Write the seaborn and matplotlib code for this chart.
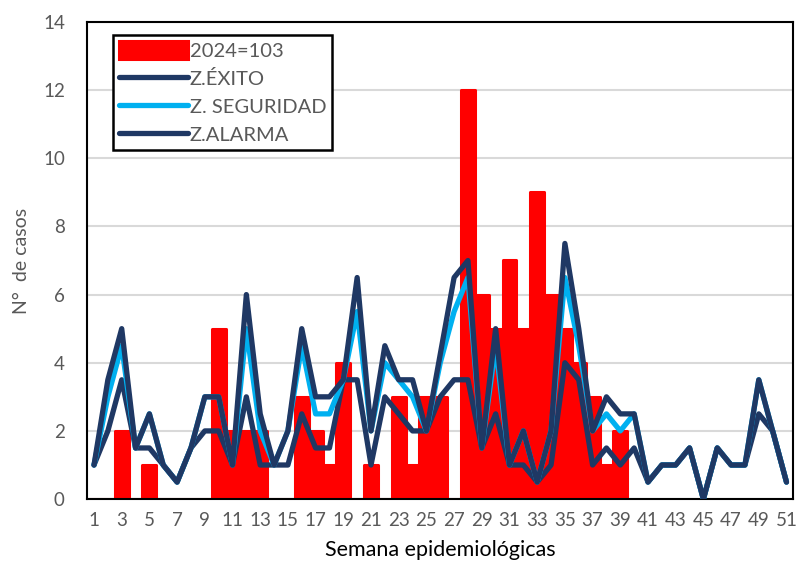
import numpy as np
import pandas as pd
import matplotlib
matplotlib.use("Agg")
import matplotlib.pyplot as plt
import seaborn as sns

# semanas epidemiologicas
semanas = list(range(1, 52))

# casos 2024 (semanas 1-39)
casos_2024 = [0, 0, 2, 0, 1, 0, 0, 0, 0, 5,
              2, 2, 2, 0, 0, 3, 2, 1, 4, 0,
              1, 0, 3, 1, 3, 3, 0, 12, 6, 5,
              7, 5, 9, 6, 5, 4, 3, 1, 2]

zona_exito = [1, 2, 3.5, 1.5, 1.5, 1, 0.5, 1.5, 2, 2,
              1, 3, 1, 1, 1, 2.5, 1.5, 1.5, 3.5, 3.5,
              1, 3, 2.5, 2, 2, 3, 3.5, 3.5, 1.5, 2.5,
              1, 1, 0.5, 1, 4, 3.5, 1, 1.5, 1, 1.5,
              0.5, 1, 1, 1.5, 0, 1.5, 1, 1, 2.5, 2, 0.5]

zona_seguridad = [1, 3, 4.5, 1.5, 2.5, 1, 0.5, 1.5, 3, 3,
                  1, 5, 2, 1, 2, 4.5, 2.5, 2.5, 3.5, 5.5,
                  2, 4, 3.5, 3, 2, 4, 5.5, 6.5, 1.5, 4.5,
                  1, 2, 0.5, 2, 6.5, 4.5, 2, 2.5, 2, 2.5,
                  0.5, 1, 1, 1.5, 0, 1.5, 1, 1, 3.5, 2, 0.5]

zona_alarma = [1, 3.5, 5, 1.5, 2.5, 1, 0.5, 1.5, 3, 3,
               1, 6, 2.5, 1, 2, 5, 3, 3, 3.5, 6.5,
               2, 4.5, 3.5, 3.5, 2, 4.25, 6.5, 7, 1.5, 5,
               1, 2, 0.5, 2, 7.5, 5, 2, 3, 2.5, 2.5,
               0.5, 1, 1, 1.5, 0, 1.5, 1, 1, 3.5, 2, 0.5]

etiqueta_barras = "2024=103"
navy = "#1F3864"
celeste = "#00B0F0"
gris = "#595959"

df_barras = pd.DataFrame({"semana": semanas[:len(casos_2024)], "casos": casos_2024})
df_lineas = pd.DataFrame({"semana": semanas, "exito": zona_exito,
                          "seguridad": zona_seguridad, "alarma": zona_alarma})

sns.set_style("white")
plt.rcParams["font.family"] = ["Lato", "DejaVu Sans"]

fig = plt.figure(figsize=(7.99, 5.75), dpi=100)
ax = fig.add_axes([0.109, 0.132, 0.884, 0.830])

sns.barplot(data=df_barras, x="semana", y="casos", native_scale=True, width=1.0,
            color="#FF0000", saturation=1, edgecolor="#FF0000", linewidth=2.2,
            label=etiqueta_barras, ax=ax, zorder=2)
for p in ax.patches:
    p.set_joinstyle("round")

estilo = dict(linewidth=3.8, solid_joinstyle="round", solid_capstyle="round", zorder=3)
sns.lineplot(data=df_lineas, x="semana", y="exito", color=navy, label="Z.ÉXITO", ax=ax, **estilo)
sns.lineplot(data=df_lineas, x="semana", y="seguridad", color=celeste, label="Z. SEGURIDAD", ax=ax, **estilo)
sns.lineplot(data=df_lineas, x="semana", y="alarma", color=navy, label="Z.ALARMA", ax=ax, **estilo)

ax.set_xlim(0.5, 51.5)
ax.set_ylim(0, 14)
ax.set_yticks(range(0, 15, 2))
ax.set_xticks(semanas[::2])
ax.yaxis.grid(True, color="#D9D9D9", linewidth=1.5, zorder=0)
ax.set_axisbelow(True)
ax.tick_params(axis="both", labelsize=13.5, labelcolor=gris, length=0)
ax.tick_params(axis="x", pad=9)
ax.tick_params(axis="y", pad=16)
for s in ax.spines.values():
    s.set_color("black")
    s.set_linewidth(1.5)

ax.set_xlabel("Semana epidemiológicas", fontsize=15.5, color="black", labelpad=8)
ax.set_ylabel("N°  de casos", fontsize=14, color=gris, labelpad=9)

handles, labels = ax.get_legend_handles_labels()
orden = [labels.index(etiqueta_barras)] + [i for i, l in enumerate(labels) if l != etiqueta_barras]
leg = ax.legend([handles[i] for i in orden], [labels[i] for i in orden],
                loc="upper left", bbox_to_anchor=(0.037, 0.973), borderaxespad=0,
                fontsize=14.5, handlelength=3.4, handleheight=1.0, handletextpad=0.1,
                labelspacing=0.45, borderpad=0.3, fancybox=False, framealpha=1,
                edgecolor="black")
leg.get_frame().set_linewidth(1.8)
for t in leg.get_texts():
    t.set_color(gris)

fig.savefig("out.png", dpi=100)
